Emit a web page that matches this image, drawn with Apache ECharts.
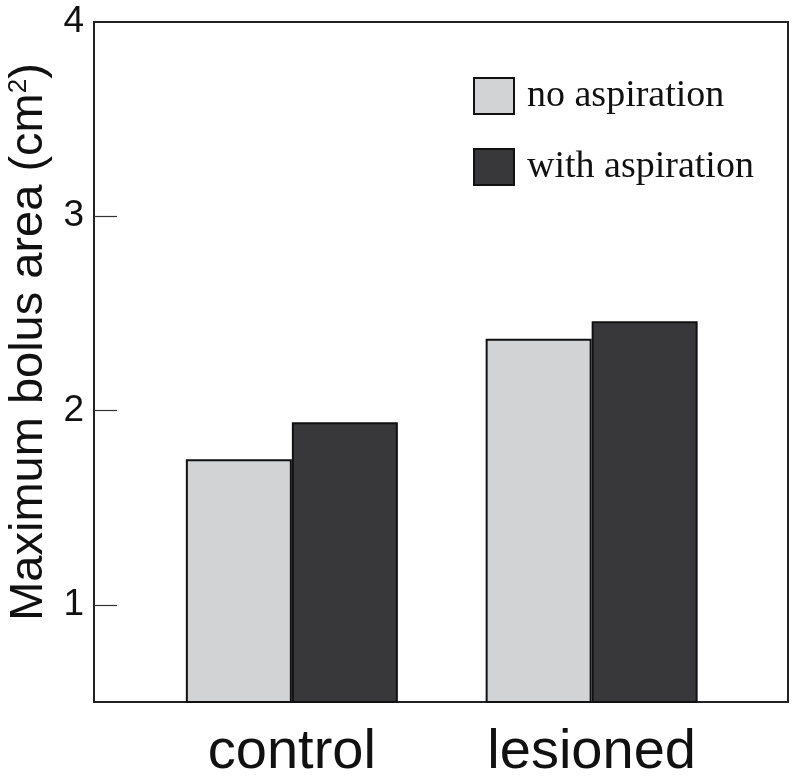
<!DOCTYPE html>
<html>
<head>
<meta charset="utf-8">
<script src="https://cdn.jsdelivr.net/npm/echarts@6/dist/echarts.min.js"></script>
<style>html,body{margin:0;padding:0;background:#fff;}#c{width:800px;height:779px;}</style>
</head>
<body>
<div id="c"></div>
<script>
const categories = ['control', 'lesioned'];
const seriesNames = ['no aspiration', 'with aspiration'];
const noAspiration = [1.75, 2.37];
const withAspiration = [1.94, 2.46];
const yTickLabels = [1, 2, 3, 4];
const yTicks = [1, 2, 3];

const chart = echarts.init(document.getElementById('c'), null, {renderer: 'canvas'});
const toPairs = arr => arr.map((v, i) => [i, v]);
const option = {
  animation: false,
  backgroundColor: '#fff',
  grid: {left: 94, right: 12, top: 22, bottom: 77, show: true, borderColor: '#222', borderWidth: 2,
         backgroundColor: 'transparent', containLabel: false, outerBoundsMode: 'none'},
  legend: {
    orient: 'vertical', left: 468, top: 72, itemWidth: 40, itemHeight: 36, itemGap: 33,
    icon: 'rect',
    textStyle: {fontFamily: 'Liberation Serif, Times New Roman, serif', fontSize: 38, color: '#111', padding: [4, 0, 0, 8]},
    data: seriesNames
  },
  xAxis: {
    type: 'value', min: -0.66, max: 1.655,
    axisLine: {show: true, onZero: false, lineStyle: {color: '#222', width: 2}},
    axisTick: {show: false},
    splitLine: {show: false},
    axisLabel: {
      customValues: [0, 1],
      formatter: v => categories[Math.round(v)],
      fontFamily: 'Liberation Sans, Arial, sans-serif', fontSize: 56, color: '#111', margin: 23
    }
  },
  yAxis: {
    type: 'value', min: 0.5, max: 4,
    axisLine: {show: true, onZero: false, lineStyle: {color: '#222', width: 2}},
    axisTick: {show: true, inside: true, length: 23, customValues: yTicks, lineStyle: {color: '#333', width: 1.2}},
    splitLine: {show: false},
    axisLabel: {
      customValues: yTickLabels,
      fontFamily: 'Liberation Sans, Arial, sans-serif', fontSize: 37, color: '#111', margin: 10
    },
    name: 'Maximum bolus area (cm{sup|2})',
    nameLocation: 'middle', nameGap: 39, nameRotate: 90,
    nameTextStyle: {
      fontFamily: 'Liberation Sans, Arial, sans-serif', fontSize: 47, color: '#111',
      padding: [0, 0, 0, 40],
      rich: {sup: {fontSize: 26, verticalAlign: 'top', lineHeight: 47, fontFamily: 'Liberation Sans, Arial, sans-serif', color: '#111'}}
    }
  },
  series: [
    {name: seriesNames[0], type: 'bar', data: toPairs(noAspiration), barWidth: 106, barGap: '0%',
     itemStyle: {color: '#d2d3d5', borderColor: '#111', borderWidth: 2}},
    {name: seriesNames[1], type: 'bar', data: toPairs(withAspiration), barWidth: 106, barGap: '0%',
     itemStyle: {color: '#38383a', borderColor: '#111', borderWidth: 2}}
  ]
};
chart.setOption(option);
</script>
</body>
</html>
